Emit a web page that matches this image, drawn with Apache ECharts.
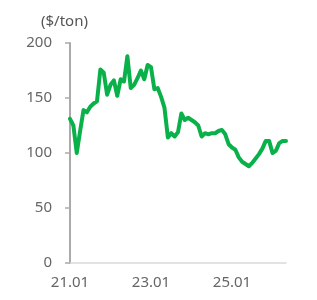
<!DOCTYPE html>
<html>
<head>
<meta charset="utf-8">
<script src="https://cdn.jsdelivr.net/npm/echarts@6/dist/echarts.min.js"></script>
<style>
html,body{margin:0;padding:0;background:#fff;}
#chart{width:317px;height:300px;}
</style>
</head>
<body>
<div id="chart"></div>
<script>
// 月度价格, 21.01 ~ 26.05
var months = [];
for (var y = 21; y <= 26; y++) {
	for (var m = 1; m <= 12; m++) {
		months.push(y + '.' + (m < 10 ? '0' + m : m));
	}
}
months = months.slice(0, 65);

var prices = [
	131, 125, 100, 120, 139, 137, 142, 145, 147, 176, 173, 153,
	162, 166, 152, 167, 165, 188, 159, 162, 168, 175, 167, 180,
	178, 158, 159, 151, 141, 114, 118, 115, 119, 136, 130, 132,
	130, 128, 125, 115, 118, 117, 118, 118, 120, 121, 117, 108,
	105, 103, 96, 92, 90, 88, 91, 95, 99, 104, 111, 111,
	100, 102, 109, 111, 111
];

var yTicks = [0, 50, 100, 150, 200];

var myChart = echarts.init(document.getElementById('chart'));
myChart.setOption({
	backgroundColor: '#fff',
	animation: false,
	title: {
		text: '($/ton)',
		left: 36,
		top: 9,
		textStyle: {
			fontFamily: 'Noto Sans',
			fontSize: 15,
			fontWeight: 'normal',
			color: '#555'
		}
	},
	grid: {
		left: 70,
		right: 31,
		top: 43,
		bottom: 37,
		containLabel: false
	},
	xAxis: {
		type: 'category',
		boundaryGap: false,
		data: months,
		axisLine: {lineStyle: {color: '#d9d9d9', width: 1.5}},
		axisTick: {show: false},
		axisLabel: {
			interval: 23,
			margin: 12,
			fontFamily: 'Noto Sans',
			fontSize: 15,
			color: '#666'
		},
		splitLine: {show: false}
	},
	yAxis: {
		type: 'value',
		min: yTicks[0],
		max: yTicks[yTicks.length - 1],
		interval: 50,
		axisLine: {show: true, lineStyle: {color: '#aaa', width: 2}},
		axisTick: {show: true, length: 5, lineStyle: {color: '#aaa', width: 1.5}},
		axisLabel: {
			margin: 18,
			fontFamily: 'Noto Sans',
			fontSize: 15,
			color: '#666'
		},
		splitLine: {show: false}
	},
	series: [{
		type: 'line',
		data: prices,
		symbol: 'none',
		lineStyle: {color: '#0ab14b', width: 4, cap: 'round', join: 'round'}
	}]
});
</script>
</body>
</html>
